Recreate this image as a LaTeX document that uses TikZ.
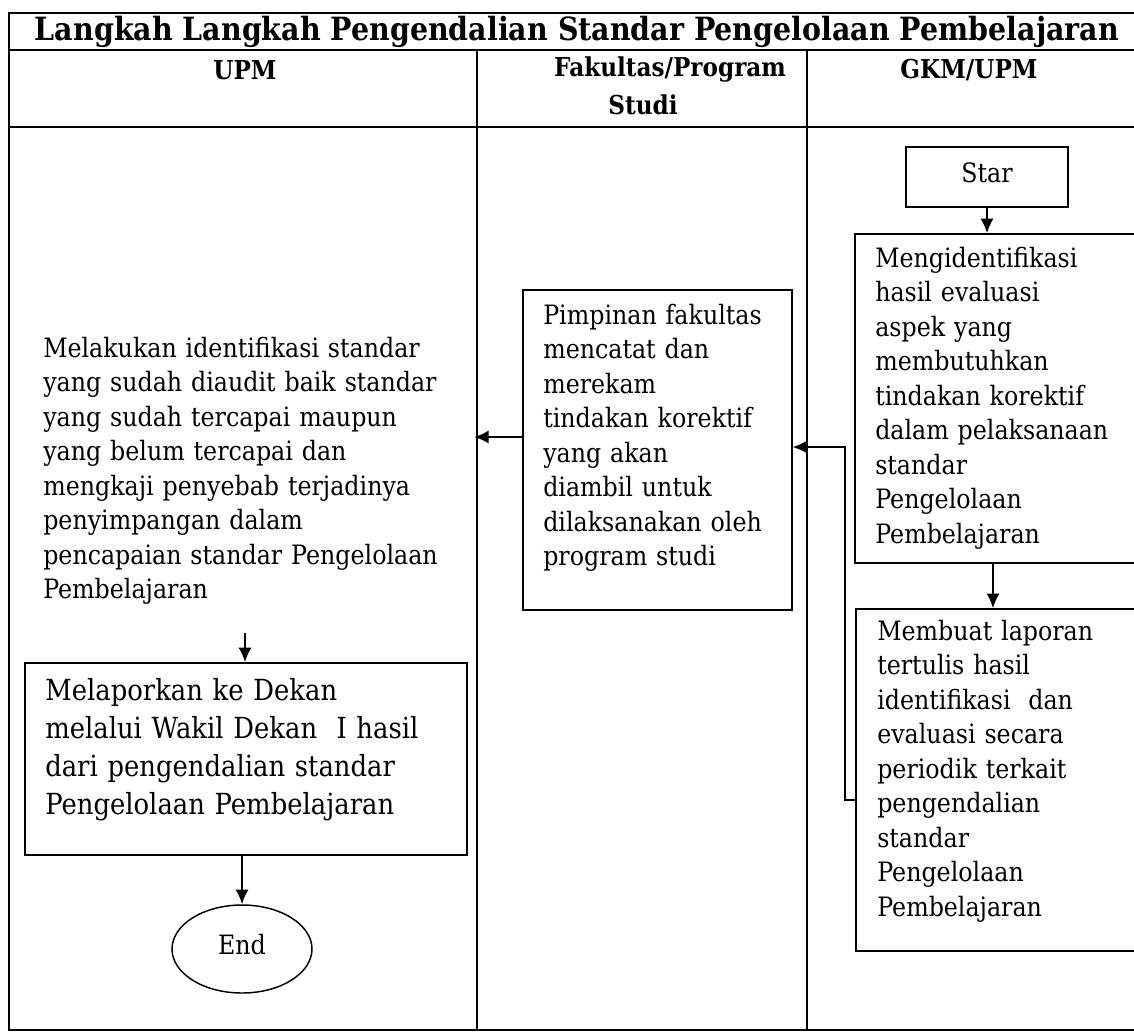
\documentclass[tikz,border=0pt]{standalone}
\usepackage{fontspec}
\setmainfont{DejaVu Serif}[FakeStretch=0.89]
\usetikzlibrary{arrows.meta,shapes.geometric}
\newcommand\bfnt{\fontsize{20}{25.9}\selectfont}
\newcommand\bgfnt{\fontsize{21.8}{28.5}\selectfont}
\begin{document}
\begin{tikzpicture}[x=0.75pt,y=-0.75pt,
  tbl/.style={line width=1.5pt},
  box/.style={draw, line width=1.1pt, inner sep=0pt},
  txt/.style={anchor=base west, inner sep=0pt, align=left, text width=#1, font=\bfnt},
  arr/.style={line width=1.9pt, -{Latex[length=11pt,width=10pt]}},
  thinarr/.style={line width=1.1pt, -{Latex[length=11pt,width=10pt]}},
  hdr/.style={font=\fontsize{19.5}{25}\selectfont\bfseries, inner sep=0pt, align=center}]
\useasboundingbox (0,0) rectangle (1134,1032);
\clip (0,0) rectangle (1134,1032);
% table
\draw[tbl] (1150,13) -- (9,13) -- (9,1030) -- (1150,1030);
\draw[tbl] (9,50) -- (1150,50);
\draw[tbl] (9,127) -- (1150,127);
\draw[tbl] (477,50) -- (477,1030);
\draw[tbl] (807,50) -- (807,1030);
% headers
\node[font=\fontsize{24}{30}\selectfont\bfseries, inner sep=0pt] (title) at (577,32) {Langkah Langkah Pengendalian Standar Pengelolaan Pembelajaran};
\node[hdr] (hupm) at (245,70) {UPM};
\node[hdr] (hfak) at (670,70) {Fakultas/Program};
\node[hdr] (hstudi) at (643,105) {Studi};
\node[hdr] (hgkm) at (969,70) {GKM/UPM};
% boxes
\node[box, minimum width=121.5pt, minimum height=45pt] (star) at (987,177) {};
\node[font=\bfnt, inner sep=0pt] (startxt) at (987,173) {Star};
\node[box, minimum width=217.5pt, minimum height=246.75pt] (mengid) at (1000,398.5) {};
\node[txt=200pt] (mengidtxt) at (875,267) {Mengidentifikasi\\ hasil evaluasi\\ aspek yang\\ membutuhkan\\ tindakan korektif\\ dalam pelaksanaan\\ standar\\ Pengelolaan\\ Pembelajaran};
\node[box, minimum width=216.75pt, minimum height=256.5pt] (membuat) at (1000.5,780) {};
\node[txt=200pt] (membuattxt) at (877,640) {Membuat laporan\\ tertulis hasil\\ identifikasi\ \ dan\\ evaluasi secara\\ periodik terkait\\ pengendalian\\ standar\\ Pengelolaan\\ Pembelajaran};
\node[box, minimum width=201.75pt, minimum height=240pt] (pimpinan) at (657.5,450) {};
\node[txt=190pt] (pimpinantxt) at (543,324) {Pimpinan fakultas\\ mencatat dan\\ merekam\\ tindakan korektif\\ yang akan\\ diambil untuk\\ dilaksanakan oleh\\ program studi};
\node[txt=320pt] (melakukan) at (43,357) {Melakukan identifikasi standar\\ yang sudah diaudit baik standar\\ yang sudah tercapai maupun\\ yang belum tercapai dan\\ mengkaji penyebab terjadinya\\ penyimpangan dalam\\ pencapaian standar Pengelolaan\\ Pembelajaran};
\node[box, minimum width=331.5pt, minimum height=144pt] (melaporkan) at (246,759) {};
\node[anchor=base west, inner sep=0pt, align=left, text width=320pt, font=\bgfnt] (melaporkantxt) at (45,700) {Melaporkan ke Dekan\\ melalui Wakil Dekan\ \ I hasil\\ dari pengendalian standar\\ Pengelolaan Pembelajaran};
\node[draw, ellipse, line width=1.1pt, minimum width=105pt, minimum height=66pt, inner sep=0pt] (end) at (242,949) {};
\node[font=\bfnt, inner sep=0pt] (endtxt) at (242,945) {End};
% connectors
\coordinate (a1) at (993,0);
\coordinate (hook) at (845,800);
\coordinate (r) at (845,447);
\coordinate (ml) at (474,437);
\coordinate (mt) at (245,633);
\draw[arr] (star.south) -- (star.south |- mengid.north);
\draw[arr] (mengid.south -| a1) -- (membuat.north -| a1);
\draw[thinarr] (membuat.west |- hook) -- (hook) -- (r) -- (pimpinan.east |- r);
\draw[arr] (pimpinan.west |- ml) -- (ml);
\draw[arr] (mt) -- (mt |- melaporkan.north);
\draw[arr] (end.north |- melaporkan.south) -- (end.north);
\end{tikzpicture}
\end{document}
